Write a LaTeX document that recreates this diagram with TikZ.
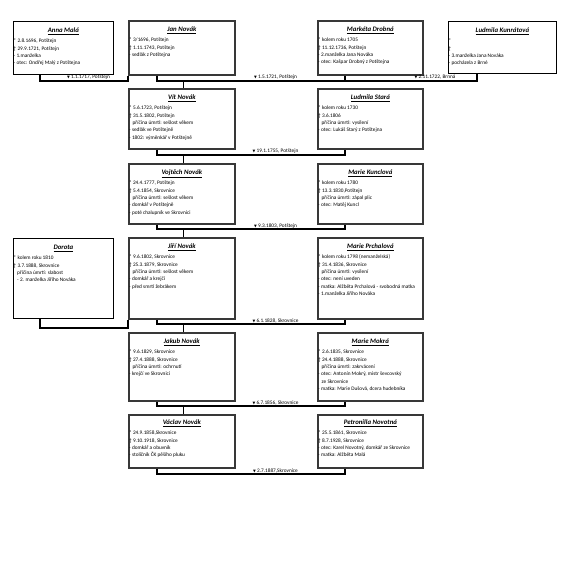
\documentclass[tikz,border=0pt]{standalone}
\usepackage{fontspec}
\setmainfont{Carlito}
\newfontfamily\symfont{DejaVu Sans}
\newcommand{\wedsym}{{\symfont\fontsize{3.6}{4}\selectfont ▼}}
\newcommand{\ind}{\hspace*{3.5pt}}
\newcommand{\dl}{\mbox{-}\ }
\begin{document}
\begin{tikzpicture}[x=1pt,y=-1pt,
  mainbox/.style={draw=black!78, line width=1.7pt, anchor=north west, inner sep=0pt, minimum width=106pt},
  sidebox/.style={draw=black, line width=0.8pt, anchor=north west, inner sep=0pt},
  ttl/.style={anchor=base, inner sep=0pt, font=\fontsize{6.8}{8}\selectfont\bfseries\itshape},
  body/.style={anchor=north west, inner sep=0pt, align=left, font=\fontsize{5.3}{7.3}\selectfont},
  wed/.style={anchor=base, inner sep=0pt, font=\fontsize{5.3}{7}\selectfont},
  conn/.style={line width=1.2pt, black}]
\useasboundingbox (0,0) rectangle (561,561);
\fill[white] (0,0) rectangle (561,561);

% line levels
\coordinate (ya) at (0,81);
\coordinate (y1) at (0,81);
\coordinate (y2) at (0,155);
\coordinate (y3) at (0,229);
\coordinate (y4) at (0,324);
\coordinate (yd) at (0,328);
\coordinate (y5) at (0,406);
\coordinate (y6) at (0,474);

% ---------- row 1
\node[sidebox, minimum width=100pt, minimum height=53pt] (anna) at (13,21) {};
\node[mainbox, minimum height=54pt] (jan) at (128,20) {};
\node[mainbox, minimum width=105pt, minimum height=54pt] (mar) at (317,20) {};
\node[sidebox, minimum width=108pt, minimum height=52pt] (lud) at (448,21) {};

\node[ttl] (annaT) at ([yshift=-11.5pt]anna.north) {\underline{Anna Malá}};
\node[body] (annaD) at ([xshift=0.5pt,yshift=-16.5pt]anna.north west) {\strut* 2.8.1696, Potštejn\\† 29.9.1721, Potštejn\\\dl 1.manželka\\\dl otec: Ondřej Malý z Potštejna};
\node[ttl] (janT) at ([yshift=-11.5pt]jan.north) {\underline{Jan Novák}};
\node[body] (janD) at ([xshift=1pt,yshift=-16.5pt]jan.north west) {\strut* 3/1696, Potštejn\\† 1.11.1743, Potštejn\\\dl sedlák z Potštejna};
\node[ttl] (marT) at ([yshift=-11.5pt]mar.north) {\underline{Markéta Drobná}};
\node[body] (marD) at ([xshift=1pt,yshift=-16.5pt]mar.north west) {\strut* kolem roku 1705\\† 11.12.1736, Potštejn\\\dl 2.manželka Jana Nováka\\\dl otec: Kašpar Drobný z Potštejna};
\node[ttl] (ludT) at ([yshift=-11.5pt]lud.north) {\underline{Ludmila Kunrátová}};
\node[body] (ludD) at ([xshift=0.5pt,yshift=-16.5pt]lud.north west) {\strut*\\†\\\dl 3.manželka Jana Nováka\\\dl pocházela z Brné};

% ---------- row 2
\node[mainbox, minimum height=60pt] (vit) at (128,88) {};
\node[mainbox, minimum width=105pt, minimum height=60pt] (luds) at (317,88) {};
\node[ttl] (vitT) at ([yshift=-11.5pt]vit.north) {\underline{Vít Novák}};
\node[body] (vitD) at ([xshift=1pt,yshift=-16.5pt]vit.north west) {\strut* 5.6.1723, Potštejn\\† 31.5.1802, Potštejn\\\ind příčina úmrtí: sešlost věkem\\\dl sedlák ve Potštejně\\\dl 1802: výměnkář v Potštejně};
\node[ttl] (ludsT) at ([yshift=-11.5pt]luds.north) {\underline{Ludmila Stará}};
\node[body] (ludsD) at ([xshift=1pt,yshift=-16.5pt]luds.north west) {\strut* kolem roku 1730\\† 3.6.1806\\\ind příčina úmrtí: vysílení\\\dl otec: Lukáš Starý z Potštejna};

% ---------- row 3
\node[mainbox, minimum height=60pt] (voj) at (128,163) {};
\node[mainbox, minimum width=105pt, minimum height=60pt] (mark) at (317,163) {};
\node[ttl] (vojT) at ([yshift=-11.5pt]voj.north) {\underline{Vojtěch Novák}};
\node[body] (vojD) at ([xshift=1pt,yshift=-16.5pt]voj.north west) {\strut* 24.4.1777, Potštejn\\† 5.4.1854, Skrovnice\\\ind příčina úmrtí: sešlost věkem\\\dl domkář v Potštejně\\\dl poté chalupník ve Skrovnici};
\node[ttl] (markT) at ([yshift=-11.5pt]mark.north) {\underline{Marie Kunclová}};
\node[body] (markD) at ([xshift=1pt,yshift=-16.5pt]mark.north west) {\strut* kolem roku 1780\\† 13.3.1830,Potštejn\\\ind příčina úmrtí: zápal plic\\\dl otec: Matěj Kuncl};

% ---------- row 4
\node[sidebox, minimum width=100pt, minimum height=80pt] (dor) at (13,238) {};
\node[mainbox, minimum height=81pt] (jiri) at (128,237) {};
\node[mainbox, minimum width=105pt, minimum height=81pt] (marp) at (317,237) {};
\node[ttl] (dorT) at ([yshift=-11.5pt]dor.north) {\underline{Dorota}};
\node[body] (dorD) at ([xshift=0.5pt,yshift=-16.5pt]dor.north west) {\strut* kolem roku 1810\\† 3.7.1888, Skrovnice\\\ind příčina úmrtí: slabost\\\ind\dl 2. manželka Jiřího Nováka};
\node[ttl] (jiriT) at ([yshift=-11.5pt]jiri.north) {\underline{Jiří Novák}};
\node[body] (jiriD) at ([xshift=1pt,yshift=-16.5pt]jiri.north west) {\strut* 9.6.1802, Skrovnice\\† 25.3.1879, Skrovnice\\\ind příčina úmrtí: sešlost věkem\\\dl domkář a krejčí\\\dl před smrtí žebrákem};
\node[ttl] (marpT) at ([yshift=-11.5pt]marp.north) {\underline{Marie Prchalová}};
\node[body] (marpD) at ([xshift=1pt,yshift=-16.5pt]marp.north west) {\strut* kolem roku 1798 (nemanželská)\\† 31.4.1836, Skrovnice\\\ind příčina úmrtí: vysílení\\\dl otec: není uveden\\\dl matka: Alžběta Prchalová - svobodná matka\\\dl 1.manželka Jiřího Nováka};

% ---------- row 5
\node[mainbox, minimum height=68pt] (jak) at (128,332) {};
\node[mainbox, minimum width=105pt, minimum height=68pt] (marm) at (317,332) {};
\node[ttl] (jakT) at ([yshift=-11.5pt]jak.north) {\underline{Jakub Novák}};
\node[body] (jakD) at ([xshift=1pt,yshift=-16.5pt]jak.north west) {\strut* 9.6.1829, Skrovnice\\† 27.4.1888, Skrovnice\\\ind příčina úmrtí: ochrnutí\\\dl krejčí ve Skrovnici};
\node[ttl] (marmT) at ([yshift=-11.5pt]marm.north) {\underline{Marie Mokrá}};
\node[body] (marmD) at ([xshift=1pt,yshift=-16.5pt]marm.north west) {\strut* 2.6.1835, Skrovnice\\† 24.4.1888, Skrovnice\\\ind příčina úmrtí: zakrvácení\\\dl otec: Antonín Mokrý, mistr ševcovský\\\ind ze Skrovnice\\\dl matka: Marie Dušová, dcera hudebníka};

% ---------- row 6
\node[mainbox, minimum height=53pt] (vac) at (128,414) {};
\node[mainbox, minimum width=105pt, minimum height=53pt] (pet) at (317,414) {};
\node[ttl] (vacT) at ([yshift=-10.5pt]vac.north) {\underline{Václav Novák}};
\node[body] (vacD) at ([xshift=1pt,yshift=-15.5pt]vac.north west) {\strut* 24.9.1858,Skrovnice\\† 9.10.1918, Skrovnice\\\dl domkář a obuvník\\\dl stoličník ČK pěšího pluku};
\node[ttl] (petT) at ([yshift=-10.5pt]pet.north) {\underline{Petronilla Novotná}};
\node[body] (petD) at ([xshift=1pt,yshift=-15.5pt]pet.north west) {\strut* 25.5.1861, Skrovnice\\† 8.7.1928, Skrovnice\\\dl otec: Karel Novotný, domkář ze Skrovnice\\\dl matka: Alžběta Malá};

% ---------- connector anchor points
\coordinate (annaB) at ([xshift=27pt]anna.south west);
\coordinate (dorB) at ([xshift=27pt]dor.south west);
\coordinate (ludB) at ([xshift=29pt]lud.south west);
\foreach \m in {jan,vit,voj,jiri,jak,vac}{
  \coordinate (\m B) at ([xshift=29pt]\m.south west);
  \coordinate (\m C) at ([xshift=2pt]\m.north);
}
\foreach \w in {mar,luds,mark,marp,marm,pet}{
  \coordinate (\w B) at ([xshift=28pt]\w.south west);
}

% ---------- connectors
\draw[conn] (annaB) -- (annaB |- ya) -- (jan.south west |- ya) -- (jan.south west);
\draw[conn] (janB) -- (janB |- y1) -- (marB |- y1) -- (marB);
\draw[conn] (marB |- y1) -- (ludB |- y1) -- (ludB);
\draw[conn] (vitC |- y1) -- (vitC);

\draw[conn] (vitB) -- (vitB |- y2) -- (ludsB |- y2) -- (ludsB);
\draw[conn] (vojC |- y2) -- (vojC);

\draw[conn] (vojB) -- (vojB |- y3) -- (markB |- y3) -- (markB);
\draw[conn] (jiriC |- y3) -- (jiriC);

\draw[conn] (dorB) -- (dorB |- yd) -- (jiri.south west |- yd) -- (jiri.south west);
\draw[conn] (jiriB) -- (jiriB |- y4) -- (marpB |- y4) -- (marpB);
\draw[conn] (jakC |- y4) -- (jakC);

\draw[conn] (jakB) -- (jakB |- y5) -- (marmB |- y5) -- (marmB);
\draw[conn] (vacC |- y5) -- (vacC);

\draw[conn] (vacB) -- (vacB |- y6) -- (petB |- y6) -- (petB);

% ---------- wedding labels
\node[wed] (w1) at (88.5,79) {\wedsym\ 1.1.1717, Potštejn};
\node[wed] (w2) at (275.5,79) {\wedsym\ 1.5.1721, Potštejn};
\node[wed] (w3) at (435,79) {\wedsym\ 2.11.1722, Brnná};
\node[wed] (w4) at (275.5,153) {\wedsym\ 19.1.1755, Potštejn};
\node[wed] (w5) at (275.5,227) {\wedsym\ 9.3.1803, Potštejn};
\node[wed] (w6) at (275.5,322) {\wedsym\ 6.1.1828, Skrovnice};
\node[wed] (w7) at (275.5,404) {\wedsym\ 6.7.1856, Skrovnice};
\node[wed] (w8) at (275.5,472) {\wedsym\ 2.7.1887,Skrovnice};
\end{tikzpicture}
\end{document}
